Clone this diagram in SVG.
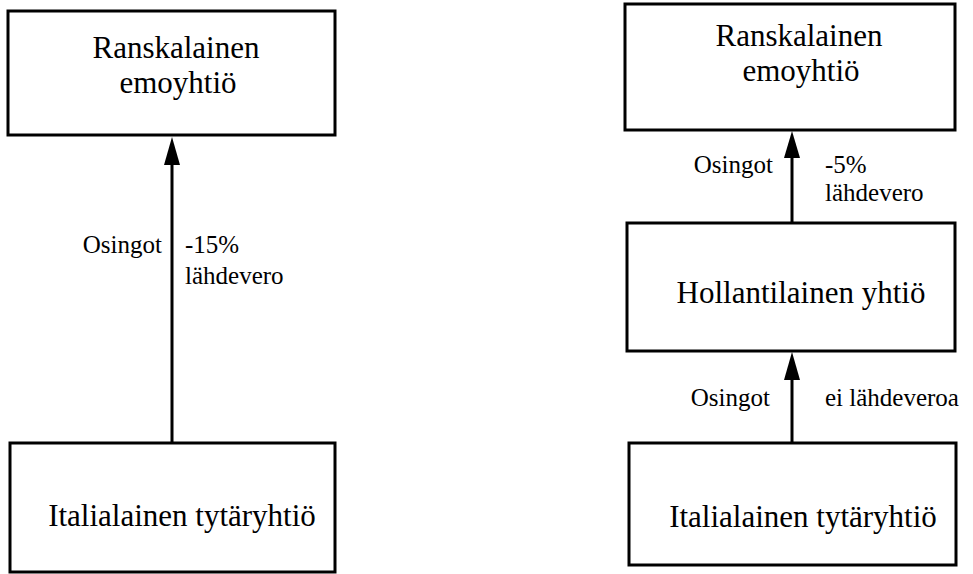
<svg xmlns="http://www.w3.org/2000/svg" width="973" height="574" viewBox="0 0 973 574">
<style>
  .box { fill: #fff; stroke: #000; stroke-width: 3; }
  .t { font-family: "Liberation Serif", "Times New Roman", serif; font-size: 31px; fill: #000; text-anchor: middle; }
  .lbl { font-family: "Liberation Serif", "Times New Roman", serif; font-size: 25px; fill: #000; }
  .end { text-anchor: end; }
  .conn { stroke: #000; stroke-width: 3; fill: none; }
  .head { fill: #000; stroke: none; }
</style>
<rect width="973" height="574" fill="#fff"/>
<g id="left-parent">
  <rect class="box" x="8" y="11" width="327" height="124"/>
  <text class="t" x="176" y="58">Ranskalainen</text>
  <text class="t" x="178" y="93">emoyhtiö</text>
</g>
<g id="left-sub">
  <rect class="box" x="10" y="443" width="325" height="129"/>
  <text class="t" x="182" y="526">Italialainen tytäryhtiö</text>
</g>
<g id="right-parent">
  <rect class="box" x="625" y="4" width="330" height="126"/>
  <text class="t" x="799" y="46">Ranskalainen</text>
  <text class="t" x="801" y="81">emoyhtiö</text>
</g>
<g id="right-holland">
  <rect class="box" x="627" y="223" width="328" height="128"/>
  <text class="t" x="801" y="303">Hollantilainen yhtiö</text>
</g>
<g id="right-sub">
  <rect class="box" x="629" y="443" width="327" height="122"/>
  <text class="t" x="803" y="527">Italialainen tytäryhtiö</text>
</g>
<g id="connectors">
  <line class="conn" x1="172" y1="443" x2="172" y2="162"/>
  <polygon class="head" points="172,137 164,165 180,165"/>
  <line class="conn" x1="792" y1="223" x2="792" y2="155"/>
  <polygon class="head" points="792,131 784,158 800,158"/>
  <line class="conn" x1="792" y1="443" x2="792" y2="377"/>
  <polygon class="head" points="792,352 784,380 800,380"/>
</g>
<g id="labels">
  <text class="lbl end" x="162" y="253">Osingot</text>
  <text class="lbl" x="185" y="253">-15%</text>
  <text class="lbl" x="185" y="284">lähdevero</text>
  <text class="lbl end" x="773" y="173">Osingot</text>
  <text class="lbl" x="825" y="173">-5%</text>
  <text class="lbl" x="825" y="201">lähdevero</text>
  <text class="lbl end" x="770" y="406">Osingot</text>
  <text class="lbl" x="825" y="406">ei lähdeveroa</text>
</g>
</svg>
